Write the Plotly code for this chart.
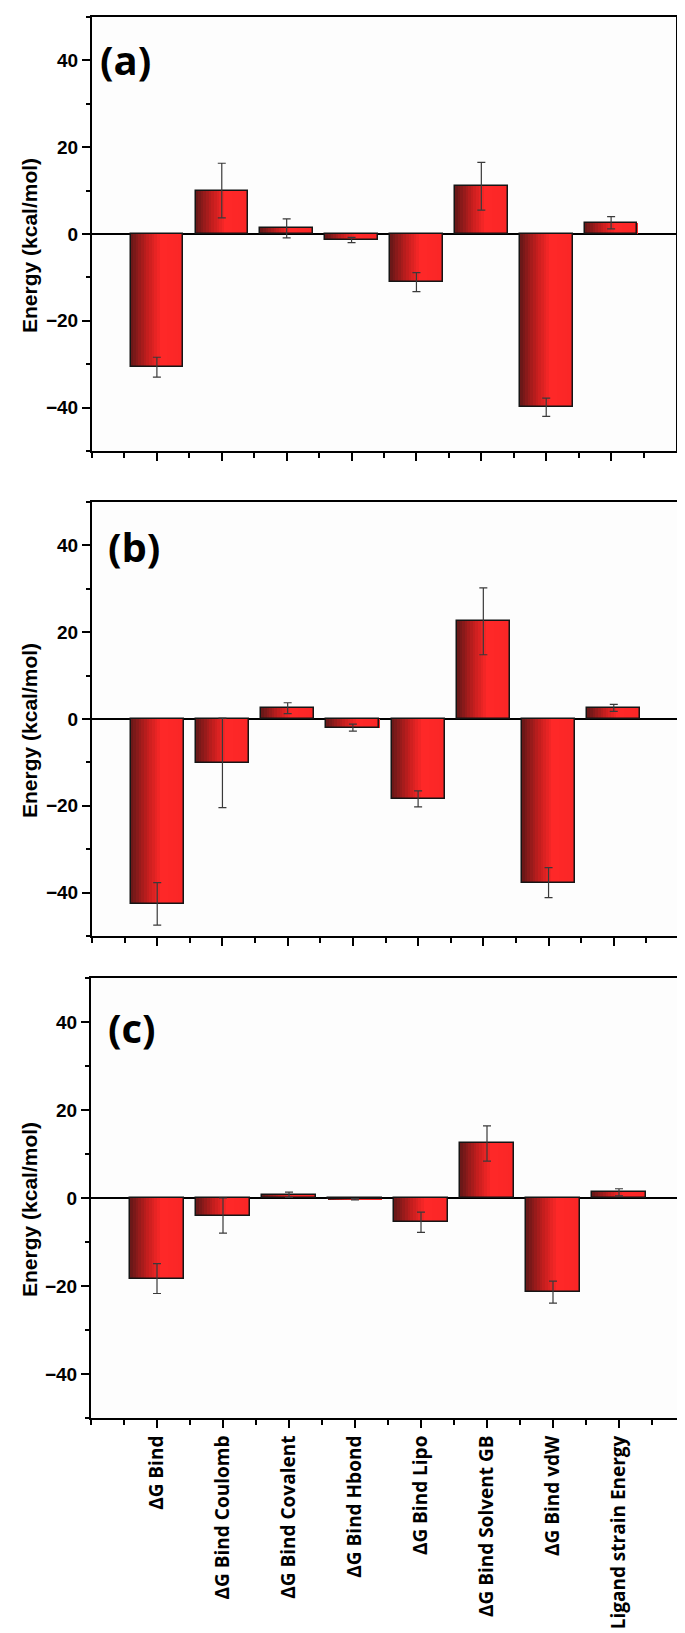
import plotly.graph_objects as go
from plotly.subplots import make_subplots

# ---------------- data ----------------
categories = ["ΔG Bind", "ΔG Bind Coulomb", "ΔG Bind Covalent", "ΔG Bind Hbond",
              "ΔG Bind Lipo", "ΔG Bind Solvent GB", "ΔG Bind vdW", "Ligand strain Energy"]
values_a = [-30.7, 10.0, 1.3, -1.4, -11.1, 11.0, -39.9, 2.6]
errors_a = [2.3, 6.3, 2.2, 0.6, 2.2, 5.5, 2.1, 1.4]
values_b = [-42.6, -10.1, 2.5, -2.0, -18.4, 22.5, -37.7, 2.55]
errors_b = [4.9, 10.3, 1.25, 0.8, 1.85, 7.7, 3.45, 0.8]
values_c = [-18.3, -4.0, 0.75, -0.3, -5.5, 12.4, -21.4, 1.3]
errors_c = [3.4, 4.0, 0.6, 0.15, 2.3, 4.0, 2.5, 0.8]
panel_labels = ["(a)", "(b)", "(c)"]
y_title = "Energy (kcal/mol)"
y_tickvals = [-40, -20, 0, 20, 40]
y_minor = [-50, -30, -10, 10, 30, 50]
y_range = [-50, 50]

# ---------------- geometry (pixels) ----------------
W, H = 685, 1633
panels_px = [(84, 668, 9, 443), (84, 671, 494, 928), (83, 677, 970, 1410)]
label_px = [(90, 51), (98, 538), (98, 1019)]

def fx(x):
    return x / W

def fy(y):
    return 1 - y / H

xs = list(range(len(categories)))
x_range = [-1, len(categories)]
minor_x = [-1] + [i + 0.5 for i in range(-1, len(categories))]

fig = make_subplots(rows=3, cols=1)

series = [(values_a, errors_a), (values_b, errors_b), (values_c, errors_c)]

stops = [(0.0, (100, 24, 24)), (0.32, (195, 30, 30)), (0.58, (255, 40, 40)), (1.0, (250, 38, 38))]

def grad(t):
    for (t0, c0), (t1, c1) in zip(stops[:-1], stops[1:]):
        if t0 <= t <= t1:
            u = (t - t0) / (t1 - t0)
            c = [round(a + (b - a) * u) for a, b in zip(c0, c1)]
            return f"rgb({c[0]},{c[1]},{c[2]})"
    c = stops[-1][1]
    return f"rgb({c[0]},{c[1]},{c[2]})"

bw = 0.81
n = 20
for r, (vals, errs) in enumerate(series, start=1):
    for k in range(n):
        t = (k + 0.5) / n
        fig.add_trace(go.Bar(
            x=xs, y=vals, width=bw / n * 1.1, offset=-bw / 2 + k * bw / n,
            marker=dict(color=grad(t), line=dict(width=0)),
            hoverinfo="skip", showlegend=False), row=r, col=1)
    fig.add_trace(go.Bar(
        x=xs, y=vals, width=bw,
        marker=dict(color="rgba(0,0,0,0)", line=dict(color="#151515", width=1.5)),
        error_y=dict(type="data", array=errs, visible=True, color="#3a3a3a",
                     thickness=1.2, width=4),
        showlegend=False), row=r, col=1)

fig.update_layout(
    width=W, height=H, autosize=False,
    margin=dict(l=0, r=0, t=0, b=0),
    paper_bgcolor="white", plot_bgcolor="#fdfdfd",
    barmode="overlay", bargap=0,
    font=dict(family="Liberation Sans, Arial, sans-serif", color="black"),
)

for i, (x0, x1, y0, y1) in enumerate(panels_px):
    xa = "xaxis" if i == 0 else f"xaxis{i+1}"
    ya = "yaxis" if i == 0 else f"yaxis{i+1}"
    last = (i == 2)
    fig.layout[xa].update(
        domain=[fx(x0), fx(x1)], range=x_range, automargin=False,
        showline=True, linecolor="black", linewidth=2, mirror=True,
        showgrid=False, zeroline=False,
        tickmode="array", tickvals=xs, ticktext=categories,
        ticks="outside", ticklen=8, tickwidth=1.5, tickcolor="black",
        minor=dict(tickmode="array", tickvals=minor_x, ticks="outside",
                   ticklen=5, tickwidth=1.5, tickcolor="black"),
        showticklabels=last, tickangle=-90, ticklabelstandoff=0,
        tickfont=dict(family="Open Sans, sans-serif", size=19, weight="bold", color="black"),
    )
    fig.layout[ya].update(
        domain=[fy(y1), fy(y0)], range=y_range, automargin=False,
        showline=True, linecolor="black", linewidth=2, mirror=True,
        showgrid=False, zeroline=True, zerolinecolor="black", zerolinewidth=2,
        tickmode="array", tickvals=y_tickvals,
        ticks="outside", ticklen=8, tickwidth=1.5, tickcolor="black",
        minor=dict(tickmode="array", tickvals=y_minor, ticks="outside",
                   ticklen=4, tickwidth=1.5, tickcolor="black"),
        tickfont=dict(family="Liberation Sans Narrow, Arial Narrow, Liberation Sans, sans-serif",
                      size=19, weight="bold", color="black"),
    )
    # y-axis title
    fig.add_annotation(
        x=fx(21), y=fy((y0 + y1) / 2 + 12), xref="paper", yref="paper",
        text=y_title, textangle=-90, showarrow=False,
        xanchor="center", yanchor="middle",
        font=dict(family="Liberation Sans, Arial, sans-serif", size=21, weight="bold", color="black"),
    )
    # panel label
    lx, ly = label_px[i]
    fig.add_annotation(
        x=fx(lx), y=fy(ly), xref="paper", yref="paper",
        text=panel_labels[i], showarrow=False,
        xanchor="left", yanchor="middle",
        font=dict(family="Open Sans, sans-serif", size=40, weight="bold", color="black"),
    )

fig.write_html("out.html")
